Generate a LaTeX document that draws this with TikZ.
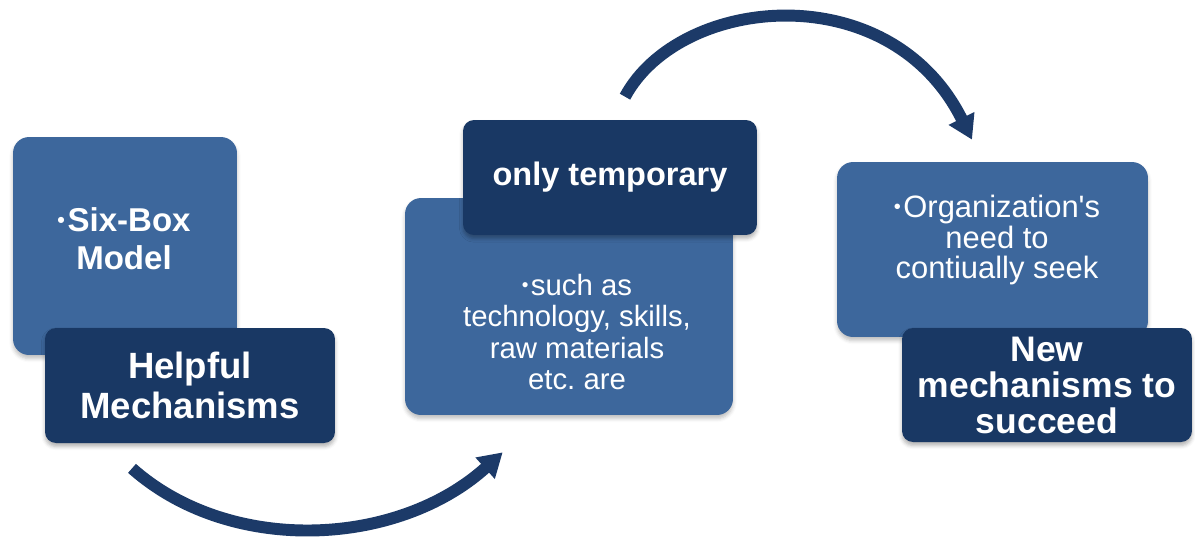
\documentclass[tikz,border=0pt]{standalone}
\usepackage{fontspec}
\setmainfont{Liberation Sans}
\usetikzlibrary{arrows.meta,shadows.blur}

\definecolor{boxblue}{RGB}{61,103,156}
\definecolor{boxnavy}{RGB}{25,56,100}
\definecolor{arrownavy}{RGB}{28,58,104}
\newcommand{\bulletmark}{\raisebox{.12em}{\scalebox{.65}{\textbullet}}\kern.08em}

\begin{document}
\frenchspacing
\begin{tikzpicture}[x=0.02cm, y=-0.02cm,
  every node/.style={text=white, align=center},
  softbox/.style={fill=boxblue, rounded corners=0.32cm,
    blur shadow={shadow xshift=0pt, shadow yshift=-2pt, shadow opacity=25, shadow blur steps=4}},
  hardbox/.style={fill=boxnavy, rounded corners=0.22cm,
    blur shadow={shadow xshift=0pt, shadow yshift=-2pt, shadow opacity=30, shadow blur steps=4}},
  curve/.style={draw=arrownavy, line width=6.8pt, -{Triangle[length=13.5pt, width=15.5pt]}}]
  \useasboundingbox (0,0) rectangle (1195,542);

  % left pair
  \node[softbox, minimum width=4.48cm, minimum height=4.36cm] (softone) at (125,246) {};
  \node[font=\bfseries\fontsize{18.8}{21.5}\selectfont] (sixbox) at (124,239) {\bulletmark Six-Box\\Model};
  \node[hardbox, minimum width=5.8cm, minimum height=2.3cm, font=\bfseries\fontsize{20.8}{22.5}\selectfont] (helpful) at (190,385.5) {Helpful\\Mechanisms};

  % middle pair
  \node[softbox, minimum width=6.56cm, minimum height=4.34cm] (softtwo) at (569,306.5) {};
  \node[font=\fontsize{16.7}{18}\selectfont] (suchas) at (577,332) {\bulletmark such as\\technology, skills,\\raw materials\\etc. are};
  \node[hardbox, minimum width=5.88cm, minimum height=2.3cm, font=\bfseries\fontsize{18.5}{22}\selectfont] (temporary) at (610,177.5) {only temporary};

  % right pair
  \node[softbox, minimum width=6.22cm, minimum height=3.5cm] (softthree) at (992.5,249.5) {};
  \node[font=\fontsize{17.6}{17.4}\selectfont] (seek) at (997,240) {\bulletmark Organization\textquotesingle s\\need to\\contiually seek};
  \node[hardbox, minimum width=5.8cm, minimum height=2.28cm, font=\bfseries\fontsize{20.2}{20.5}\selectfont] (succeed) at (1047,385) {New\\mechanisms to\\succeed};

  % arcs between the pairs
  \draw[curve] ([shift={(-58,25)}]helpful.south) .. controls +(98,87) and +(-105,95) .. ([shift={(98,37)}]softtwo.south west);
  \draw[curve] ([shift={(15,-23)}]temporary.north) .. controls +(55,-102) and +(-82,-165) .. ([shift={(-20.5,-22)}]softthree.north);
\end{tikzpicture}
\end{document}
